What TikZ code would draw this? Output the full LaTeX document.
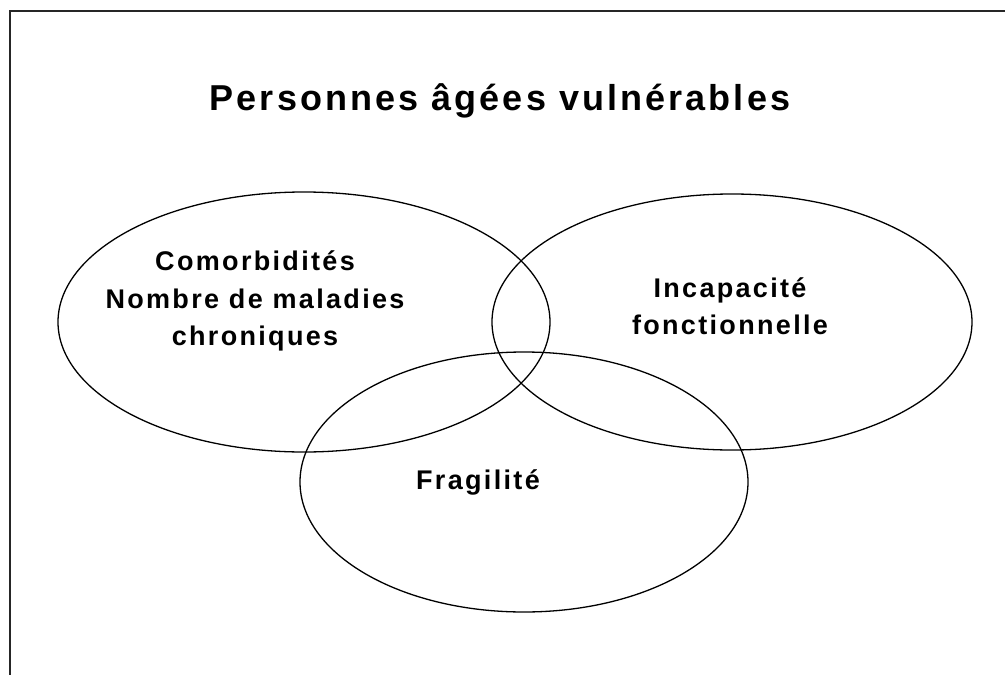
\documentclass[tikz,border=0pt]{standalone}
\usepackage{fontspec}
\usetikzlibrary{shapes.geometric}
\setmainfont{Liberation Sans}[LetterSpace=8.6]
\begin{document}
\begin{tikzpicture}[x=1pt,y=-1pt,
  frame/.style={line width=2pt,black!85},
  circ/.style={draw,ellipse,line width=1.3pt,inner sep=0pt},
  lbl/.style={font=\bfseries\fontsize{27}{37.5}\selectfont,align=center,inner sep=0pt},
  ttl/.style={font=\bfseries\fontsize{36}{40}\selectfont,inner sep=0pt}]
\useasboundingbox (0,0) rectangle (1005,675);
\coordinate (tl) at (10,11);
\coordinate (bl) at (10,675);
\coordinate (tr) at (1005,11);
\draw[frame] (bl) -- (tl) -- (tr);
\node[circ,minimum width=492pt,minimum height=260pt] (e1) at (304,322) {};
\node[circ,minimum width=480pt,minimum height=256pt] (e2) at (732,322) {};
\node[circ,minimum width=448pt,minimum height=260pt] (e3) at (524,482) {};
\node[ttl] (title) at (500,101) {Personnes âgées vulnérables};
\node[lbl] (t1) at (255,301) {Comorbidités\\Nombre de maladies\\chroniques};
\node[lbl] (t2) at (730,306) {Incapacité\\fonctionnelle};
\node[lbl] (t3) at (478,482) {Fragilité};
\end{tikzpicture}
\end{document}
